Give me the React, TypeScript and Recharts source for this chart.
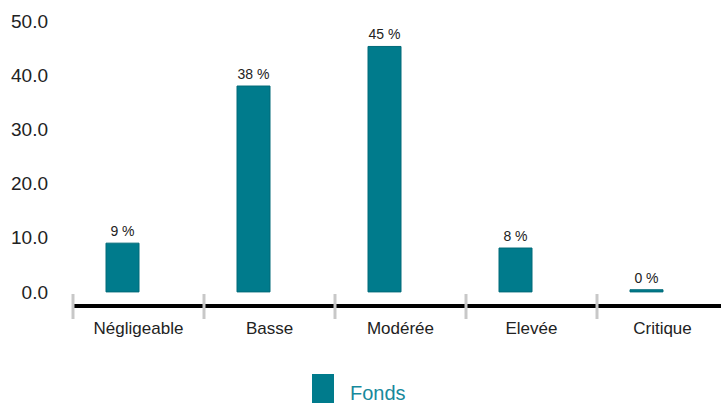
import React from 'react';
import { BarChart, Bar, XAxis, YAxis, LabelList, Legend } from 'recharts';

// risk categories and fund weights (%)
const categories = ['Négligeable', 'Basse', 'Modérée', 'Elevée', 'Critique'];
const fondsValues = [9.0, 38.0, 45.3, 8.1, 0.4];
// second series slot is empty in the source chart (keeps bars left of centre)
const indiceValues = [null, null, null, null, null];
const yTicks = [0, 10, 20, 30, 40, 50];

const data = categories.map((name, i) => ({
  name,
  fonds: fondsValues[i],
  indice: indiceValues[i],
}));

const BAND = 131;
const FONT = '"Liberation Sans", Arial, sans-serif';

const CategoryTick = (props: any) => {
  const { x, y, payload } = props;
  return (
    <g>
      <line x1={x - BAND / 2} x2={x - BAND / 2} y1={y - 12} y2={y + 13} stroke="#c8c8c8" strokeWidth={3} />
      <text x={x} y={y + 28} textAnchor="middle" fontFamily={FONT} fontSize={17} fill="#222">
        {payload.value}
      </text>
    </g>
  );
};

const BarValueLabel = (props: any) => {
  const { x, y, width, value } = props;
  return (
    <text x={x + width / 2} y={y - 7} textAnchor="middle" fontFamily={FONT} fontSize={14} fill="#222">
      {`${Math.round(value)} %`}
    </text>
  );
};

const renderLegend = (props: any) => {
  const items = (props.payload || []).filter((e: any) => e.type !== 'none' && e.dataKey === 'fonds');
  return (
    <div style={{ display: 'flex', alignItems: 'flex-start' }}>
      {items.map((entry: any) => (
        <div key={entry.value} style={{ display: 'flex', alignItems: 'flex-start' }}>
          <div style={{ width: 22, height: 32, background: entry.color }} />
          <span style={{ marginLeft: 16, marginTop: 9, fontFamily: FONT, fontSize: 20, color: '#17899c', lineHeight: '20px' }}>
            {entry.value}
          </span>
        </div>
      ))}
    </div>
  );
};

export default function App() {
  return (
    <div style={{ position: 'absolute', left: 0, top: 0, width: 721, height: 403, overflow: 'hidden', background: '#fff' }}>
      <BarChart
        width={740}
        height={403}
        data={data}
        margin={{ top: 21, right: 12, bottom: 67, left: 0 }}
        barSize={33}
        barGap={0}
        barCategoryGap={0}
      >
        <XAxis
          dataKey="name"
          axisLine={{ stroke: '#000', strokeWidth: 4 }}
          tickLine={false}
          tickSize={0}
          tickMargin={0}
          height={30}
          interval={0}
          tick={<CategoryTick />}
        />
        <YAxis
          width={73}
          domain={[-2.6, 50]}
          ticks={yTicks}
          axisLine={false}
          tickLine={false}
          tickSize={0}
          tickMargin={25}
          tickFormatter={(v: number) => v.toFixed(1)}
          tick={{ fill: '#222', fontSize: 19, fontFamily: FONT }}
        />
        <Bar dataKey="fonds" name="Fonds" fill="#007b8c" stroke="#006a79" strokeWidth={1} isAnimationActive={false}>
          <LabelList dataKey="fonds" content={<BarValueLabel />} />
        </Bar>
        <Bar dataKey="indice" name="Indice" legendType="none" fill="transparent" isAnimationActive={false} />
        <Legend
          verticalAlign="middle"
          align="center"
          layout="horizontal"
          content={renderLegend}
          wrapperStyle={{ top: 374, left: 312, width: 'auto' }}
        />
      </BarChart>
    </div>
  );
}
